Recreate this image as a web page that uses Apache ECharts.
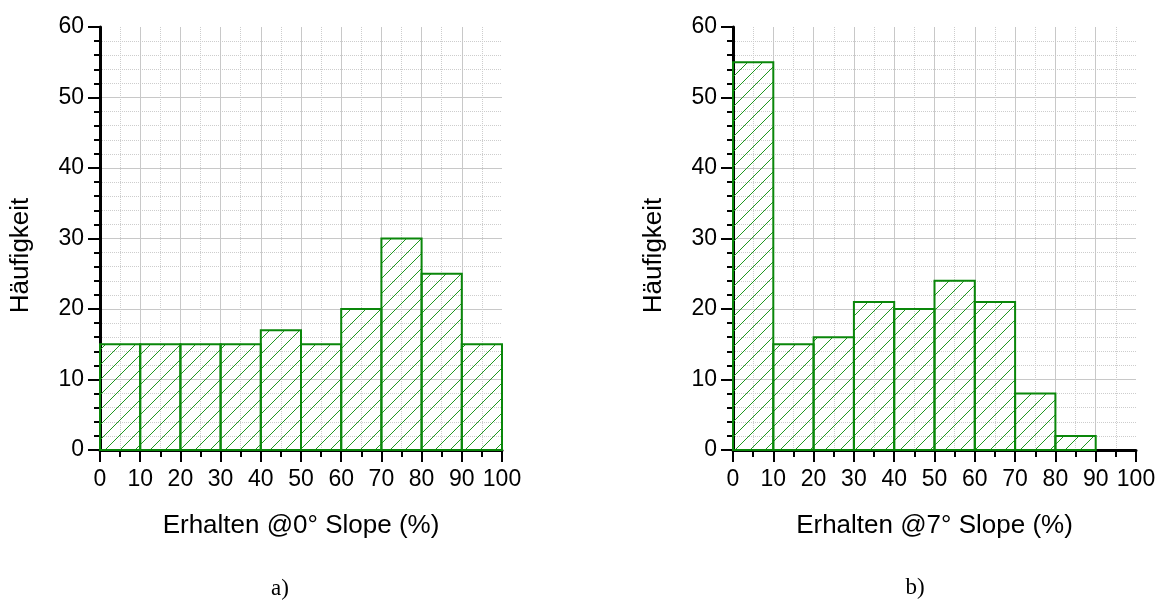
<!DOCTYPE html>
<html><head><meta charset="utf-8">
<script src="https://cdn.jsdelivr.net/npm/echarts@6/dist/echarts.min.js"></script>
<style>html,body{margin:0;padding:0;background:#fff;} #c{width:1160px;height:604px;}</style>
</head><body><div id="c"></div>
<script>
// ---- data ----
const binStarts = [0, 10, 20, 30, 40, 50, 60, 70, 80, 90];
const binWidth = 10;
const countsA = [15, 15, 15, 15, 17, 15, 20, 30, 25, 15];
const countsB = [55, 15, 16, 21, 20, 24, 21, 8, 2, 0];
const xTitles = ['Erhalten @0° Slope (%)', 'Erhalten @7° Slope (%)'];
const yTitle = 'Häufigkeit';
const captions = ['a)', 'b)'];
const xMin = 0, xMax = 100, xStep = 10;
const yMin = 0, yMax = 60, yStep = 10;

// ---- styling ----
const FONT = '"Liberation Sans", Arial, sans-serif';
const SERIF = '"Liberation Serif", "Times New Roman", serif';
const GREEN = '#0a870a';
const HATCH = '#1f971f';
const HATCH_STEP = 15;

function binsOf(counts) {
  return binStarts.map((s, i) => [s, s + binWidth, counts[i]]);
}

function renderBin(params, api) {
  const xa = api.value(0), xb = api.value(1), v = api.value(2);
  if (!v) return null;
  const p0 = api.coord([xa, 0]);
  const p1 = api.coord([xb, v]);
  const x0 = p0[0], x1 = p1[0], y0 = p1[1], y1 = p0[1];
  const children = [];
  // diagonal hatch lines x + y = c, anchored on a global lattice
  const cStart = Math.ceil((x0 + y0) / HATCH_STEP) * HATCH_STEP;
  for (let c = cStart; c <= x1 + y1; c += HATCH_STEP) {
    const ax = Math.max(x0, c - y1), bx = Math.min(x1, c - y0);
    if (bx - ax < 0.5) continue;
    children.push({
      type: 'line', silent: true,
      shape: { x1: ax, y1: c - ax, x2: bx, y2: c - bx },
      style: { stroke: HATCH, lineWidth: 1 }
    });
  }
  children.push({
    type: 'rect',
    shape: { x: x0, y: y0, width: x1 - x0, height: y1 - y0 },
    style: { fill: 'rgba(255,255,255,0)', stroke: GREEN, lineWidth: 2 }
  });
  return { type: 'group', children: children };
}

const grids = [
  { left: 100, top: 27, width: 402, height: 423 },
  { left: 733, top: 27, width: 403, height: 423 }
];

function xAxisOf(i) {
  return {
    type: 'value', gridIndex: i, min: xMin, max: xMax, interval: xStep,
    name: xTitles[i], nameLocation: 'middle', nameGap: 63,
    nameTextStyle: { fontFamily: FONT, fontSize: 26, color: '#000' },
    axisLine: { show: true, onZero: false, lineStyle: { color: '#000', width: 3 } },
    axisTick: { show: true, length: 12, lineStyle: { color: '#000', width: 2 } },
    minorTick: { show: true, splitNumber: 2, length: 7, lineStyle: { color: '#000', width: 2 } },
    axisLabel: { margin: 18, fontFamily: FONT, fontSize: 23, color: '#000' },
    splitLine: { show: true, showMinLine: false, showMaxLine: false, lineStyle: { color: '#c8c8c8', width: 1 } },
    minorSplitLine: { show: true, lineStyle: { color: '#cdcdcd', width: 1, type: 'dotted' } }
  };
}
function yAxisOf(i) {
  return {
    type: 'value', gridIndex: i, min: yMin, max: yMax, interval: yStep,
    name: yTitle, nameLocation: 'middle', nameGap: 66, nameRotate: 90,
    nameTextStyle: { fontFamily: FONT, fontSize: 26, color: '#000', padding: [0, 34, 0, 0] },
    axisLine: { show: true, onZero: false, lineStyle: { color: '#000', width: 3 } },
    axisTick: { show: true, length: 12, lineStyle: { color: '#000', width: 2 } },
    minorTick: { show: true, splitNumber: 5, length: 6, lineStyle: { color: '#000', width: 2 } },
    axisLabel: { margin: 16, fontFamily: FONT, fontSize: 23, color: '#000' },
    splitLine: { show: true, showMinLine: false, showMaxLine: false, lineStyle: { color: '#c8c8c8', width: 1 } },
    minorSplitLine: { show: true, lineStyle: { color: '#cdcdcd', width: 1, type: 'dotted' } }
  };
}

const chart = echarts.init(document.getElementById('c'), null, { renderer: 'canvas' });
chart.setOption({
  backgroundColor: '#fff',
  animation: false,
  grid: grids,
  xAxis: [xAxisOf(0), xAxisOf(1)],
  yAxis: [yAxisOf(0), yAxisOf(1)],
  series: [
    { type: 'custom', xAxisIndex: 0, yAxisIndex: 0, renderItem: renderBin,
      encode: { x: [0, 1], y: 2 }, data: binsOf(countsA), z: 3 },
    { type: 'custom', xAxisIndex: 1, yAxisIndex: 1, renderItem: renderBin,
      encode: { x: [0, 1], y: 2 }, data: binsOf(countsB), z: 3 }
  ],
  graphic: [
    { type: 'text', x: 280, y: 589, style: { text: captions[0], font: '23px ' + SERIF, fill: '#000', align: 'center', verticalAlign: 'middle' } },
    { type: 'text', x: 915, y: 588, style: { text: captions[1], font: '23px ' + SERIF, fill: '#000', align: 'center', verticalAlign: 'middle' } }
  ]
});
</script>
</body></html>
